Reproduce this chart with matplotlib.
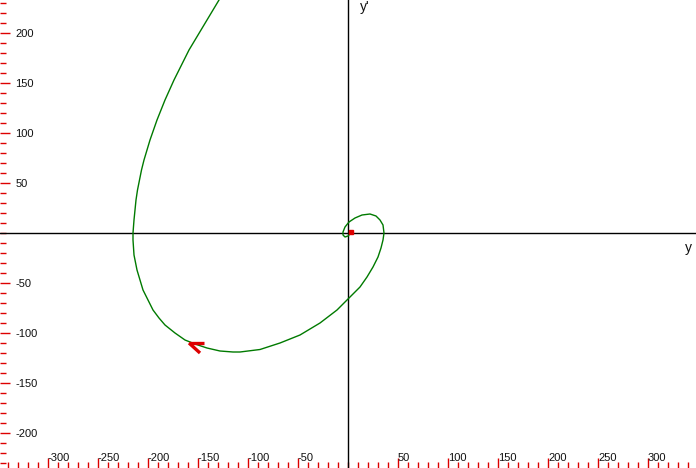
import numpy as np
import matplotlib
matplotlib.use("Agg")
import matplotlib.pyplot as plt
from matplotlib.ticker import FixedLocator, MultipleLocator

plt.rcParams['font.family'] = ['Liberation Sans', 'DejaVu Sans']

# phase trajectory (y, y')
traj_y = [-129, -135, -141, -147, -153, -159, -164, -169, -174, -178.5, -183,
          -187, -191, -194.5, -198, -201, -204, -206.5, -208.5, -210.5, -212,
          -213, -214, -215, -215, -214, -211, -208, -205, -200, -195, -189,
          -183, -173, -163, -153, -141, -128, -115, -108, -88, -68, -48, -28,
          -11, 0, 12, 19, 25, 30, 33, 35, 36, 35, 32, 28, 22, 14, 7, 1, -3,
          -5, -5, -3, 0, 2]
traj_dy = [233, 223, 213, 203, 193, 183, 173, 163, 153, 143, 133,
           123, 113, 103, 93, 83, 73, 63, 53, 43, 33,
           23, 13, 0, -7, -22, -37, -47, -57, -67, -77, -85,
           -92, -100, -107, -111, -115, -118, -119, -119, -116.5, -110, -102, -90,
           -77, -66, -54, -44, -34, -24, -15, -7, 0, 8, 13, 17, 19, 18, 15, 11, 6,
           1, -2, -4, -3, -1]

# arrow head (tip, two barbs) and the start point
arrow_tip = (-159, -110)
arrow_barbs = [(-144, -110), (-148, -120)]
start_pt = (3, 1)

x_major = [-300, -250, -200, -150, -100, -50, 50, 100, 150, 200, 250, 300]
y_major = [-200, -150, -100, -50, 50, 100, 150, 200]

red = '#dd0000'

fig = plt.figure(figsize=(6.96, 4.68), dpi=100)
ax = fig.add_axes([0, 0, 1, 1])
ax.set_xlim(-348, 348)
ax.set_ylim(-235, 233)
for s in ax.spines.values():
    s.set_visible(False)

# axes through origin
ax.axhline(0, color='black', lw=1.0)
ax.axvline(0, color='black', lw=1.0)

ax.plot(traj_y, traj_dy, color='#007a00', lw=1.0)
for bx, by in arrow_barbs:
    ax.plot([arrow_tip[0], bx], [arrow_tip[1], by], color=red, lw=2.4,
            solid_capstyle='butt')
ax.plot(*start_pt, marker='s', color=red, markersize=3.5)

# red ruler ticks on left and bottom edges
ax.xaxis.set_major_locator(FixedLocator(x_major))
ax.xaxis.set_minor_locator(MultipleLocator(10))
ax.yaxis.set_major_locator(FixedLocator(y_major))
ax.yaxis.set_minor_locator(MultipleLocator(10))
ax.set_xticklabels([str(v) for v in x_major])
ax.set_yticklabels([str(v) for v in y_major])
ax.tick_params(which='major', direction='in', length=7.2, width=1.0,
               color=red, labelsize=8, labelcolor='#111111')
ax.tick_params(which='minor', direction='in', length=4.0, width=1.0, color=red)
ax.tick_params(axis='y', pad=-11)
ax.tick_params(axis='x', pad=-11)
for lab in ax.get_yticklabels():
    lab.set_horizontalalignment('left')
for lab in ax.get_xticklabels():
    lab.set_horizontalalignment('left')

ax.text(340, -15, 'y', fontsize=10, ha='center', va='center', color='#111111')
ax.text(17, 226, "y'", fontsize=10, ha='center', va='center', color='#111111')

fig.savefig('out.png', dpi=100)
